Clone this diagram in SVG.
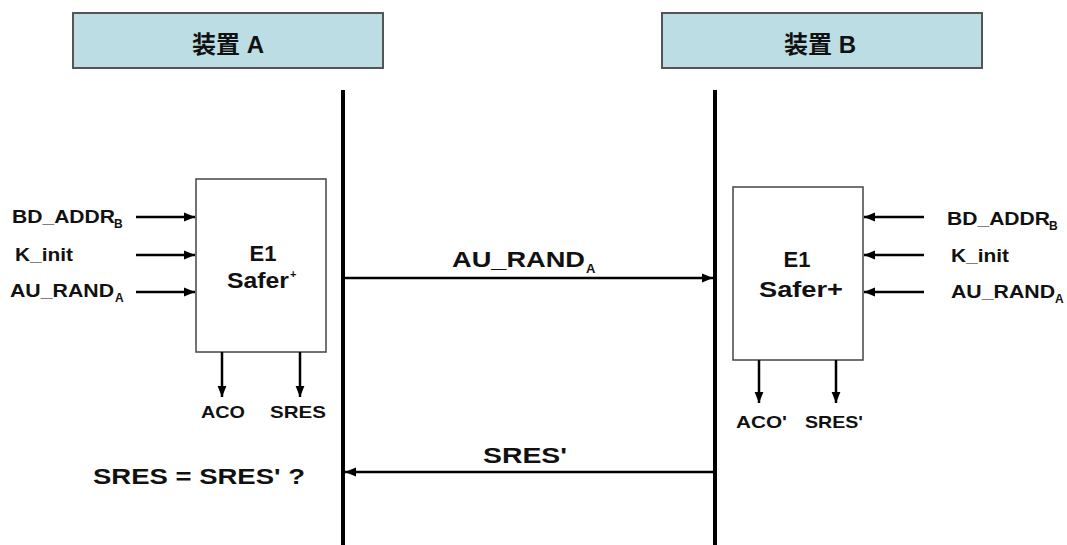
<svg xmlns="http://www.w3.org/2000/svg" width="1067" height="545" viewBox="0 0 1067 545">
<style>
.t{font-family:"Liberation Sans",Arial,"Noto Sans CJK SC",sans-serif;font-weight:bold;fill:#111}
.hdr{fill:#bcdde3;stroke:#555;stroke-width:2}
.box{fill:#fff;stroke:#444;stroke-width:1.5}
.ln{stroke:#000;stroke-width:2.5;fill:none}
.life{stroke:#000;stroke-width:4}
</style>
<defs>
<marker id="ah" viewBox="0 0 10 10" refX="10" refY="5" markerWidth="4.5" markerHeight="4.5" orient="auto" markerUnits="strokeWidth">
<path d="M0,1 L10,5 L0,9 z" fill="#000"/>
</marker>
</defs>
<rect width="1067" height="545" fill="#fff"/>
<g id="deviceA">
<rect class="hdr" x="73" y="13" width="310" height="55"/>
<text class="t" x="228" y="53" font-size="24" text-anchor="middle">装置 A</text>
</g>
<g id="deviceB">
<rect class="hdr" x="662" y="13" width="320" height="55"/>
<text class="t" x="820" y="53" font-size="24" text-anchor="middle">装置 B</text>
</g>
<g id="lifelines">
<line class="life" x1="343" y1="90" x2="343" y2="545"/>
<line class="life" x1="715" y1="90" x2="715" y2="545"/>
</g>
<g id="e1A">
<rect class="box" x="196" y="179" width="130" height="173"/>
<text class="t" x="263" y="261" font-size="22" text-anchor="middle">E1</text>
<text class="t" x="258" y="288" font-size="22" text-anchor="middle" textLength="62" lengthAdjust="spacingAndGlyphs">Safer</text><text class="t" x="290" y="278" font-size="11">+</text>
</g>
<g id="e1B">
<rect class="box" x="733" y="187" width="130" height="173"/>
<text class="t" x="797" y="267" font-size="22" text-anchor="middle">E1</text>
<text class="t" x="801" y="297" font-size="22" text-anchor="middle" textLength="84" lengthAdjust="spacingAndGlyphs">Safer+</text>
</g>
<g id="labelsA">
<text class="t" x="12" y="223" font-size="19" textLength="103" lengthAdjust="spacingAndGlyphs">BD_ADDR</text><text class="t" x="114" y="228" font-size="12">B</text>
<text class="t" x="15" y="261" font-size="19" textLength="58" lengthAdjust="spacingAndGlyphs">K_init</text>
<text class="t" x="10" y="297" font-size="19" textLength="104" lengthAdjust="spacingAndGlyphs">AU_RAND</text><text class="t" x="115" y="302" font-size="12">A</text>
<text class="t" x="223" y="418" font-size="17" text-anchor="middle" textLength="44" lengthAdjust="spacingAndGlyphs">ACO</text>
<text class="t" x="298" y="418" font-size="17" text-anchor="middle" textLength="56" lengthAdjust="spacingAndGlyphs">SRES</text>
</g>
<g id="labelsB">
<text class="t" x="947" y="225" font-size="19" textLength="103" lengthAdjust="spacingAndGlyphs">BD_ADDR</text><text class="t" x="1049" y="230" font-size="12">B</text>
<text class="t" x="951" y="262" font-size="19" textLength="58" lengthAdjust="spacingAndGlyphs">K_init</text>
<text class="t" x="951" y="298" font-size="19" textLength="104" lengthAdjust="spacingAndGlyphs">AU_RAND</text><text class="t" x="1055" y="303" font-size="12">A</text>
<text class="t" x="736" y="428" font-size="17" textLength="51" lengthAdjust="spacingAndGlyphs">ACO'</text>
<text class="t" x="805" y="428" font-size="17" textLength="58" lengthAdjust="spacingAndGlyphs">SRES'</text>
</g>
<g id="messages">
<text class="t" x="452" y="267" font-size="22" textLength="133" lengthAdjust="spacingAndGlyphs">AU_RAND</text><text class="t" x="586" y="273" font-size="13">A</text>
<text class="t" x="483" y="463" font-size="22" textLength="84" lengthAdjust="spacingAndGlyphs">SRES'</text>
<text class="t" x="93" y="484" font-size="22" textLength="212" lengthAdjust="spacingAndGlyphs">SRES = SRES' ?</text>
</g>
<g id="connectors">
<line class="ln" x1="136" y1="217" x2="195" y2="217" marker-end="url(#ah)"/>
<line class="ln" x1="136" y1="255" x2="195" y2="255" marker-end="url(#ah)"/>
<line class="ln" x1="136" y1="292" x2="195" y2="292" marker-end="url(#ah)"/>
<line class="ln" x1="222" y1="352" x2="222" y2="397" marker-end="url(#ah)"/>
<line class="ln" x1="300" y1="352" x2="300" y2="397" marker-end="url(#ah)"/>
<line class="ln" x1="924" y1="217" x2="864" y2="217" marker-end="url(#ah)"/>
<line class="ln" x1="924" y1="255" x2="864" y2="255" marker-end="url(#ah)"/>
<line class="ln" x1="924" y1="292" x2="864" y2="292" marker-end="url(#ah)"/>
<line class="ln" x1="759" y1="360" x2="759" y2="403" marker-end="url(#ah)"/>
<line class="ln" x1="836" y1="360" x2="836" y2="403" marker-end="url(#ah)"/>
<line class="ln" x1="345" y1="278" x2="713" y2="278" marker-end="url(#ah)"/>
<line class="ln" x1="713" y1="472" x2="345" y2="472" marker-end="url(#ah)"/>
</g>
</svg>
